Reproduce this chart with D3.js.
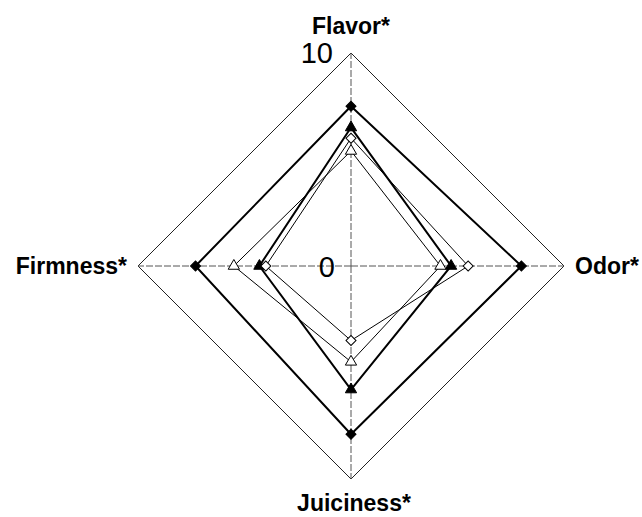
<!DOCTYPE html>
<html>
<head>
<meta charset="utf-8">
<script src="https://cdn.jsdelivr.net/npm/d3@7"></script>
<style>
  body { margin: 0; background: #fff; }
  svg { display: block; }
  text { font-family: Arial, "Liberation Sans", sans-serif; fill: #000; }
</style>
</head>
<body>
<div id="container"></div>
<script>
// Data
const attributes = ["Flavor*", "Odor*", "Juiciness*", "Firmness*"];
const filledDiamond = [7.5, 8.0, 7.9, 7.3];
const filledTriangle = [6.5, 4.7, 5.8, 4.3];
const openDiamond = [6.0, 5.5, 3.5, 4.0];
const openTriangle = [5.4, 4.2, 4.5, 5.5];
const scaleTicks = [0, 10];

const width = 642;
const height = 517;
const cx = 351;
const cy = 266;

const r = d3.scaleLinear().domain([0, 10]).range([0, 213]);
const angle = d3.scaleLinear().domain([0, attributes.length]).range([0, 2 * Math.PI]);

const svg = d3
  .select("#container")
  .append("svg")
  .attr("width", width)
  .attr("height", height);

const g = svg.append("g").attr("transform", `translate(${cx},${cy})`);

const radial = d3
  .lineRadial()
  .angle((d, i) => angle(i))
  .radius((d) => r(d))
  .curve(d3.curveLinearClosed);

// point position helper
const pos = (v, i) => {
  const a = angle(i);
  return [r(v) * Math.sin(a), -r(v) * Math.cos(a)];
};

// outer grid ring at 10
g.append("path")
  .attr("d", radial(attributes.map(() => 10)))
  .attr("fill", "none")
  .attr("stroke", "#222")
  .attr("stroke-width", 1);

// dashed axes
attributes.forEach((a, i) => {
  const p = pos(10, i);
  g.append("line")
    .attr("x1", 0)
    .attr("y1", 0)
    .attr("x2", p[0])
    .attr("y2", p[1])
    .attr("stroke", "#555")
    .attr("stroke-width", 1)
    .attr("stroke-dasharray", "7,2");
});

// series
const series = [
  { values: filledDiamond, symbol: "diamond", fill: "#000", width: 2 },
  { values: filledTriangle, symbol: "triangle", fill: "#000", width: 2 },
  { values: openDiamond, symbol: "diamond", fill: "#fff", width: 1 },
  { values: openTriangle, symbol: "triangle", fill: "#fff", width: 1 },
];

series.forEach((s) => {
  g.append("path")
    .attr("d", radial(s.values))
    .attr("fill", "none")
    .attr("stroke", "#000")
    .attr("stroke-width", s.width);
});

series.forEach((s) => {
  s.values.forEach((v, i) => {
    const p = pos(v, i);
    const sym =
      s.symbol === "diamond"
        ? d3.symbol().type(d3.symbolSquare).size(50)
        : d3.symbol().type(d3.symbolTriangle).size(55);
    g.append("path")
      .attr("d", sym())
      .attr(
        "transform",
        `translate(${p[0]},${p[1]})` + (s.symbol === "diamond" ? " rotate(45)" : "")
      )
      .attr("fill", s.fill)
      .attr("stroke", "#000")
      .attr("stroke-width", 1);
  });
});

// scale labels
g.append("text")
  .attr("x", -18)
  .attr("y", -r(10) + 10)
  .attr("text-anchor", "end")
  .attr("font-size", 29)
  .text(scaleTicks[1]);

g.append("text")
  .attr("x", -16)
  .attr("y", 11)
  .attr("text-anchor", "end")
  .attr("font-size", 29)
  .text(scaleTicks[0]);

// attribute labels
const labelPos = [
  { x: 0, y: -r(10) - 19, anchor: "middle" },
  { x: r(10) + 11, y: 8, anchor: "start" },
  { x: 3, y: r(10) + 32, anchor: "middle" },
  { x: -r(10) - 11, y: 8, anchor: "end" },
];

attributes.forEach((a, i) => {
  g.append("text")
    .attr("x", labelPos[i].x)
    .attr("y", labelPos[i].y)
    .attr("text-anchor", labelPos[i].anchor)
    .attr("font-size", 23)
    .attr("font-weight", "bold")
    .text(a);
});
</script>
</body>
</html>
